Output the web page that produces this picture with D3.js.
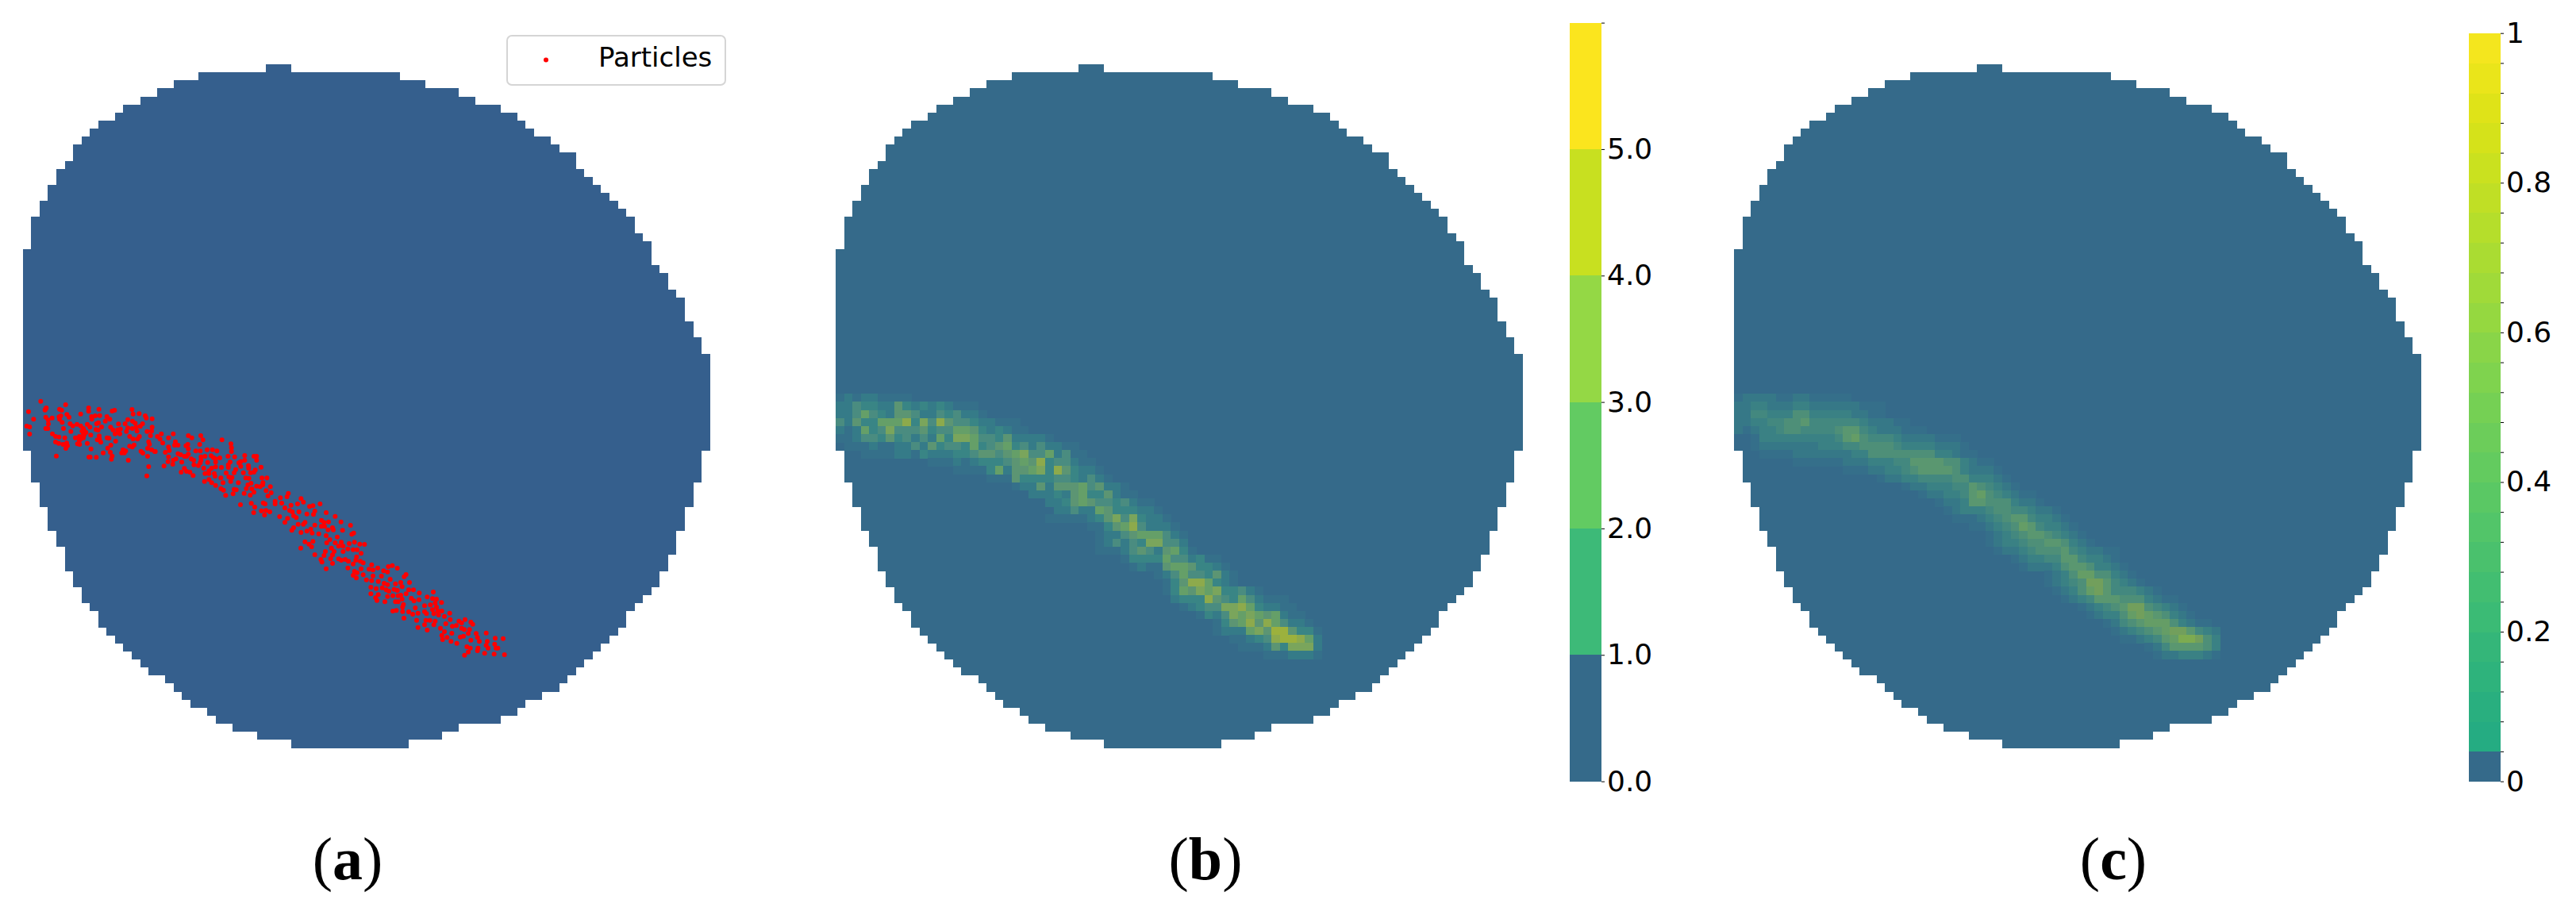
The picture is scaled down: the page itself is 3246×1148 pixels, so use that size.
<!DOCTYPE html>
<html>
<head>
<meta charset="utf-8">
<style>
  body { margin: 0; background: #fff; }
  text { font-family: "DejaVu Sans", sans-serif; fill: #000; }
  .sub text { font-family: "Liberation Serif", serif; }
</style>
<script src="https://cdn.jsdelivr.net/npm/d3@7/dist/d3.min.js"></script>
</head>
<body>
<div id="chart"></div>
<script>
// Domain mask: first and one-past-last column of each of the 85 rows
const maskStart = [29,21,18,16,14,12,11,9,8,7,6,6,5,4,4,3,3,2,2,1,1,1,1,0,0,0,0,0,0,0,0,0,0,0,0,0,
  0,0,0,0,0,0,0,0,0,0,0,0,1,1,1,1,2,2,2,3,3,3,4,4,5,5,5,6,6,7,7,8,9,9,10,11,12,13,14,15,17,18,19,20,22,23,25,28,32];
const maskEnd = [32,45,48,52,54,57,59,60,61,63,64,66,66,67,68,69,70,71,72,73,73,74,75,75,75,76,77,77,78,79,79,79,80,80,81,81,
  82,82,82,82,82,82,82,82,82,82,82,82,81,81,81,81,80,80,80,79,79,79,78,78,78,77,77,76,76,75,74,73,72,72,71,70,69,68,67,66,65,64,62,60,59,57,52,50,46];

// Panel (b): histogram intensity per cell, one digit per cell, rows 41..73
const heatBStart = [0,0,0,0,0,0,0,1,11,14,18,21,23,25,26,25,30,31,31,31,34,35,38,39,39,40,41,43,45,45,47,48,51];
const heatB = ["121221111","22433225323232111","224643255422434221","4253366683748544322111",
  "21263474445344665323211","11244353424263776443522221","01112112242534436345634242211",
  "00111122132223345545674462411","11121233345658344211","111136255673853221","111533334432421",
  "12252555645221","2223256335211","2235654434211","2242265333221","111112357473221","11356842221",
  "12245666421","12424377442","111245425631","133336442311","121156653321","1246443521","135886321",
  "136576733421","23338543642111","12344778632211","1324767656211","135685864221","1222675995331",
  "11234899862","1112537772","1112221"];

// Panel (c): smoothed density, same layout as panel (b)
const heatCStart = [0,0,0,0,0,0,2,3,7,13,17,20,22,24,25,26,28,30,30,31,33,34,37,37,38,39,41,42,44,45,46,49,50];
const heatC = ["12222112211111","223322233222222111","224433355333332211","223344556444444322211",
  "21233455444456643222111","001333333333467544432222111","12222222333445555433332221",
  "11112222222335555555533211","111111222333446666553211","1112233456666532221","1223344445533321",
  "12233344654321","12233467543211","1223665553221","12333455443221","11123456643321","1123457643321",
  "123456654321","1233455665321","122345556432211","1233446643321","1222356653321","12357755321",
  "123458864321","1235786444321","12346665553211","1234568854321","1233578765321","1245677753211",
  "1234567886432","112346799853","124666653","12233321"];

const rampB = ["#356a8a","#35708a","#357b88","#398585","#4a8c80","#5c9573","#659f68","#7aa55c","#8daa4c","#9cb13d"];
const rampC = ["#356a8a","#356f8a","#367887","#3a8184","#43887f","#4e8f78","#5a9770","#659d66","#729f5c","#7dab50"];

// Colorbars
const barBTicks = [0,1,2,3,4,5,6];
const barBLabels = ["0.0","1.0","2.0","3.0","4.0","5.0",""];
const barBColors = ["#356a8a","#3dba78","#62cb62","#94d845","#c8e020","#fbe51e"];
const barCTicks = [0,.04,.08,.12,.16,.2,.24,.28,.32,.36,.4,.44,.48,.52,.56,.6,.64,.68,.72,.76,.8,.84,.88,.92,.96,1];
const barCLabels = {0:"0",0.2:"0.2",0.4:"0.4",0.6:"0.6",0.8:"0.8",1:"1"};

// Particle positions, in thirds of a mesh unit inside four overlapping patches
const patchOrigin = [[-3.7,419],[166.3,464],[316.3,539],[431.3,629]];
const particles0 = [[79,17],[173,30],[33,56],[98,45],[100,42],[95,50],[150,47],[158,51],[52,85],[98,77],[122,80],[107,88],[148,76],[155,72],[150,85],[178,67],[186,77],[160,97],[108,103],[98,120],[106,120],[26,111],[37,114],[37,141],[165,120],[190,102],[200,110],[216,104],[193,131],[230,65],[260,42],[260,55],[299,47],[349,54],[358,51],[271,75],[285,72],[302,71],[329,75],[272,85],[340,85],[323,92],[230,110],[255,104],[265,115],[240,120],[235,130],[290,102],[297,98],[309,114],[288,124],[296,126],[250,135],[243,145],[123,140],[135,150],[148,152],[170,155],[135,171],[147,176],[163,180],[177,175],[180,185],[174,195],[210,155],[225,150],[230,160],[240,155],[268,145],[218,178],[226,180],[255,176],[269,197],[293,163],[300,148],[301,160],[306,172],[330,155],[337,157],[362,168],[344,183],[332,194],[315,212],[342,210],[349,224],[346,236],[138,224],[261,228],[266,228],[289,229],[343,115],[352,125],[373,103],[398,102],[408,86],[424,48],[428,65],[451,64],[474,72],[478,80],[500,83],[426,92],[436,100],[464,102],[455,112],[440,115],[425,120],[408,118],[403,131],[415,150],[380,122],[370,125],[372,135],[360,140],[378,140],[500,115],[498,130],[481,131],[494,147],[428,160],[445,160],[452,150],[443,130],[415,187],[425,190],[432,182],[487,170],[490,180],[483,195],[498,200],[510,207],[390,200],[400,205],[385,212],[395,212],[410,240],[458,206],[465,213],[483,225],[487,264],[480,299],[228,155],[245,130],[240,140],[225,165]];
const particles1 = [[10,15],[20,25],[30,40],[25,5],[52,20],[70,5],[78,35],[88,48],[75,48],[127,12],[140,20],[174,12],[182,28],[170,45],[125,45],[118,50],[127,62],[52,55],[40,75],[55,68],[2,72],[88,80],[98,84],[112,90],[120,90],[127,82],[52,92],[80,100],[70,105],[50,110],[68,120],[35,127],[102,112],[138,100],[147,105],[148,122],[165,125],[155,70],[172,70],[198,65],[218,65],[235,70],[190,90],[175,92],[175,105],[172,115],[213,88],[222,95],[230,100],[230,112],[246,96],[200,113],[185,135],[190,155],[205,145],[215,135],[230,130],[205,155],[225,155],[228,165],[100,150],[112,136],[120,147],[133,150],[145,163],[254,28],[288,43],[290,58],[290,72],[277,90],[302,92],[340,87],[340,105],[325,110],[318,115],[285,112],[278,122],[278,132],[252,132],[325,128],[354,125],[355,135],[375,90],[385,90],[385,105],[402,131],[380,142],[375,150],[362,152],[335,152],[306,140],[300,152],[270,153],[250,172],[280,168],[292,170],[287,185],[258,190],[188,185],[205,178],[215,190],[230,200],[250,212],[260,218],[268,238],[300,215],[308,217],[296,232],[338,230],[316,190],[344,172],[356,173],[364,192],[352,198],[346,212],[367,213],[375,226],[361,237],[385,203],[398,205],[409,190],[405,172],[424,172],[408,198],[324,273],[365,268],[378,282],[374,303],[421,220],[437,205],[428,240],[440,228],[410,266],[417,270],[403,296],[420,295],[435,300],[415,312]];
const particles2 = [[5,35],[25,22],[55,5],[50,18],[30,42],[5,45],[42,60],[65,50],[60,70],[70,75],[90,45],[95,75],[103,25],[112,38],[135,55],[148,52],[175,45],[155,72],[150,85],[125,83],[198,78],[232,92],[22,93],[52,100],[42,115],[75,90],[85,97],[118,115],[112,122],[92,122],[75,135],[68,145],[103,153],[125,148],[140,140],[155,125],[145,155],[180,107],[190,115],[207,113],[180,130],[192,130],[222,135],[225,143],[205,143],[170,158],[198,165],[254,113],[290,126],[260,145],[295,160],[302,155],[240,170],[212,180],[200,192],[232,192],[118,188],[148,187],[133,197],[143,207],[102,212],[155,237],[255,190],[262,205],[245,205],[285,195],[305,190],[325,197],[343,198],[218,212],[195,225],[228,225],[190,240],[222,238],[178,255],[182,265],[215,252],[222,270],[198,290],[245,253],[255,258],[270,255],[282,262],[315,218],[300,218],[280,215],[262,225],[330,232],[280,287],[313,245],[300,272],[310,258],[327,262],[338,268],[330,290],[305,300],[300,315],[315,305],[312,325],[338,313]];
const particles3 = [[25,5],[15,22],[30,25],[48,17],[70,28],[85,32],[88,12],[103,8],[122,18],[30,47],[62,48],[5,62],[25,65],[50,68],[95,60],[148,50],[155,42],[168,72],[115,77],[135,72],[140,88],[72,75],[85,80],[22,90],[42,95],[65,92],[80,100],[110,98],[122,102],[90,105],[165,100],[183,100],[205,112],[258,108],[22,115],[50,118],[40,130],[45,140],[75,145],[85,125],[105,122],[125,122],[135,120],[155,115],[115,145],[125,145],[140,135],[175,132],[185,142],[204,137],[235,127],[255,133],[270,135],[289,148],[145,155],[142,165],[190,168],[225,160],[247,157],[265,150],[270,165],[255,175],[275,180],[290,180],[105,180],[118,178],[142,182],[165,183],[147,207],[180,192],[200,188],[225,182],[232,190],[320,188],[260,190],[278,195],[300,200],[322,212],[195,215],[230,215],[245,215],[265,218],[225,232],[260,232],[305,228],[285,245],[200,242],[235,252],[330,238],[345,235],[355,218],[378,212],[365,225],[400,222],[407,230],[300,258],[290,272],[293,288],[310,280],[328,264],[325,295],[347,302],[365,245],[375,250],[360,278],[372,275],[390,265],[395,250],[400,290],[420,265],[425,280],[432,295],[458,263],[492,283],[522,284],[385,315],[398,320],[390,335],[376,347],[427,320],[425,330],[462,295],[458,310],[465,320],[452,340],[490,305],[495,320],[502,320],[488,343],[527,345]];

const panelLeft = [28.7, 1053, 2185];
const panelWidth = 866;
const panelTop = 81, panelBottom = 942;
const rows = d3.range(85), cols = d3.range(82);

const svg = d3.select("#chart").append("svg")
    .attr("width", 3246)
    .attr("height", 1148);

const yBand = d3.scaleBand().domain(rows).range([panelTop, panelBottom]);

// Draw the domain mask, then the intensity cells on top of it
function drawPanel(left, fill, starts, values, ramp) {
    const xBand = d3.scaleBand().domain(cols).range([left, left + panelWidth]);
    const g = svg.append("g").attr("shape-rendering", "crispEdges");

    g.selectAll("rect.mask")
        .data(rows)
        .enter()
        .append("rect")
        .attr("class", "mask")
        .attr("x", r => xBand(maskStart[r]))
        .attr("y", r => yBand(r))
        .attr("width", r => (maskEnd[r] - maskStart[r]) * xBand.bandwidth())
        .attr("height", yBand.bandwidth() + 0.5)
        .attr("fill", fill);

    if (!values) return;

    const cells = [];
    values.forEach((str, i) => {
        str.split("").forEach((v, j) => cells.push({row: 41 + i, col: starts[i] + j, v: +v}));
    });
    g.selectAll("rect.cell")
        .data(cells.filter(d => d.v > 0))
        .enter()
        .append("rect")
        .attr("class", "cell")
        .attr("x", d => xBand(d.col))
        .attr("y", d => yBand(d.row))
        .attr("width", xBand.bandwidth() + 0.5)
        .attr("height", yBand.bandwidth() + 0.5)
        .attr("fill", d => ramp[d.v]);
}

drawPanel(panelLeft[0], "#355f8d");
drawPanel(panelLeft[1], "#356a8a", heatBStart, heatB, rampB);
drawPanel(panelLeft[2], "#356a8a", heatCStart, heatC, rampC);

// Particles on panel (a)
const meshX = d3.scaleLinear().domain([0, panelWidth]).range([panelLeft[0], panelLeft[0] + panelWidth]);
const meshY = d3.scaleLinear().domain([0, panelBottom - panelTop]).range([panelTop, panelBottom]);
const allParticles = [particles0, particles1, particles2, particles3].flatMap((list, k) =>
    list.map(p => [patchOrigin[k][0] + p[0] / 3, patchOrigin[k][1] + p[1] / 3]));

svg.append("g")
    .selectAll("circle")
    .data(allParticles)
    .enter()
    .append("circle")
    .attr("cx", d => meshX(d[0]))
    .attr("cy", d => meshY(d[1]))
    .attr("r", 3)
    .attr("fill", "#ff0000");

// Legend
const legend = svg.append("g");
legend.append("rect")
    .attr("x", 639).attr("y", 45)
    .attr("width", 275).attr("height", 62)
    .attr("rx", 6)
    .attr("fill", "#fff")
    .attr("stroke", "#d5d5d5")
    .attr("stroke-width", 2);
legend.append("circle")
    .attr("cx", 688).attr("cy", 75.5).attr("r", 3)
    .attr("fill", "#ff0000");
legend.append("text")
    .attr("x", 754).attr("y", 84)
    .style("font-size", "34px")
    .text("Particles");

// Colorbar (b): six flat bands
const barBY = d3.scaleLinear().domain([0, 6]).range([984.6, 28.6]);
const gBarB = svg.append("g").attr("shape-rendering", "crispEdges");
gBarB.selectAll("rect")
    .data(barBColors)
    .enter()
    .append("rect")
    .attr("x", 1978).attr("width", 40)
    .attr("y", (d, i) => barBY(i + 1))
    .attr("height", (d, i) => barBY(i) - barBY(i + 1))
    .attr("fill", d => d);

const axisB = d3.axisRight(barBY)
    .tickValues(barBTicks)
    .tickFormat((d, i) => barBLabels[i])
    .tickSize(4)
    .tickPadding(3);
svg.append("g")
    .attr("transform", "translate(2018,0)")
    .call(axisB)
    .call(g => g.select(".domain").remove())
    .call(g => g.selectAll("text").style("font-size", "36px").attr("font-family", null));

// Colorbar (c): blue first band, then viridis upper range
const barCY = d3.scaleLinear().domain([0, 1]).range([984.6, 41.7]);
const barCColor = d3.scaleSequential(d3.interpolateViridis).domain([-1.5, 1]);
const gBarC = svg.append("g").attr("shape-rendering", "crispEdges");
gBarC.selectAll("rect")
    .data(barCTicks.slice(0, -1))
    .enter()
    .append("rect")
    .attr("x", 3111).attr("width", 40)
    .attr("y", (d, i) => barCY(barCTicks[i + 1]))
    .attr("height", (d, i) => barCY(d) - barCY(barCTicks[i + 1]) + 0.5)
    .attr("fill", (d, i) => i === 0 ? barBColors[0] : barCColor(d));

const axisC = d3.axisRight(barCY)
    .tickValues(barCTicks)
    .tickFormat(d => barCLabels[d] || "")
    .tickSize(4)
    .tickPadding(3);
svg.append("g")
    .attr("transform", "translate(3151,0)")
    .call(axisC)
    .call(g => g.select(".domain").remove())
    .call(g => g.selectAll("text").style("font-size", "36px").attr("font-family", null));

// Sub-figure labels
const subLabels = ["a", "b", "c"];
const subX = [438, 1519, 2663];
const sub = svg.append("g").attr("class", "sub");
subLabels.forEach((s, i) => {
    const t = sub.append("text")
        .attr("x", subX[i]).attr("y", 1108)
        .attr("text-anchor", "middle")
        .style("font-size", "76px");
    t.append("tspan").text("(");
    t.append("tspan").style("font-weight", "bold").text(s);
    t.append("tspan").text(")");
});
</script>
</body>
</html>
